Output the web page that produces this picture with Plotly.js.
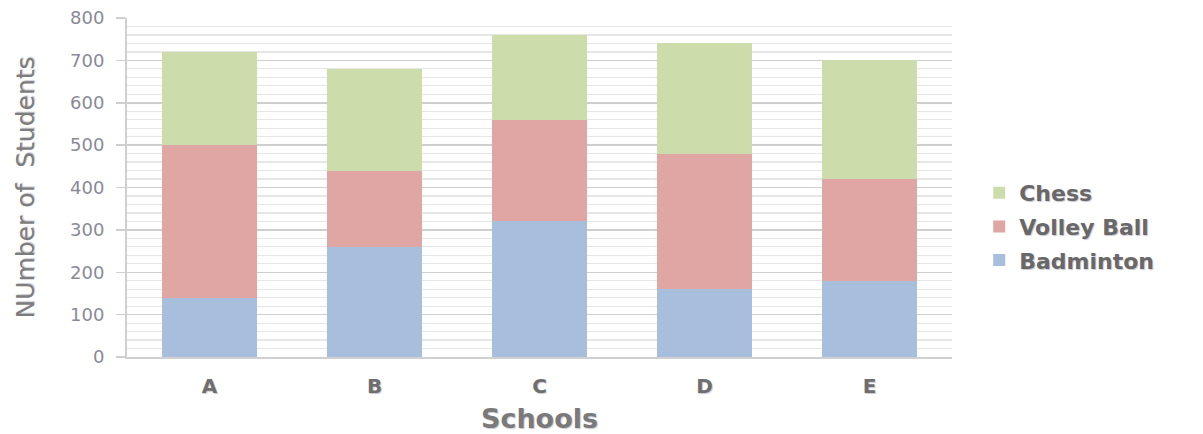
<!DOCTYPE html>
<html>
<head>
<meta charset="utf-8">
<script src="https://cdn.plot.ly/plotly-3.0.1.min.js"></script>
<style>html,body{margin:0;padding:0;background:#fff;}#chart{width:1203px;height:434px;}</style>
</head>
<body>
<div id="chart"></div>
<script>
const schools = ['A', 'B', 'C', 'D', 'E'];
const badminton = [140, 260, 320, 160, 180];
const volleyBall = [360, 180, 240, 320, 240];
const chess = [220, 240, 200, 260, 280];
const yTicks = [0, 100, 200, 300, 400, 500, 600, 700, 800];

const font = 'DejaVu Sans, Verdana, sans-serif';
const shadow = '1px 1px 1px #c8c8d0';
function bar(name, values, color, rank) {
  return {
    type: 'bar', name: name, x: schools, y: values,
    marker: {color: color, line: {width: 0}},
    width: 0.57, legendgroup: name, legendrank: rank, hoverinfo: 'y+name'
  };
}
const data = [
  bar('Badminton', badminton, '#a7bfdc', 3),
  bar('Volley Ball', volleyBall, '#dfa6a4', 2),
  bar('Chess', chess, '#cddcab', 1)
];
const layout = {
  width: 1203, height: 434,
  margin: {l: 127, r: 251, t: 18, b: 77},
  barmode: 'stack',
  paper_bgcolor: '#fff', plot_bgcolor: '#fff',
  font: {family: font, color: '#777'},
  showlegend: true,
  legend: {
    x: 1.033, xanchor: 'left', y: 0.385, yanchor: 'middle',
    traceorder: 'grouped', tracegroupgap: 2,
    font: {family: font, size: 22, color: '#686868', weight: 'bold', shadow: shadow},
    itemwidth: 30
  },
  xaxis: {
    showline: true, linecolor: '#d0d0d0', linewidth: 2,
    ticks: '', ticklabelstandoff: 10,
    tickfont: {family: font, size: 20, color: '#6e6e6e', weight: 'bold', shadow: shadow},
    title: {text: 'Schools', font: {family: font, size: 27, color: '#7a7a7a', weight: 'bold', shadow: shadow}, standoff: 12},
    fixedrange: true
  },
  yaxis: {
    range: [0, 800], tickvals: yTicks, ticktext: yTicks.map(String),
    showgrid: true, gridcolor: '#cfcfcf', gridwidth: 1.5,
    minor: {dtick: 20, tick0: 0, showgrid: true, gridcolor: '#e6e6e6', gridwidth: 1.2, ticks: ''},
    showline: true, linecolor: '#cfcfcf', linewidth: 2,
    ticks: 'outside', ticklen: 9, tickcolor: '#cfcfcf', tickwidth: 1.5,
    ticklabelstandoff: 8,
    tickfont: {family: font, size: 18, color: '#8a8a96'},
    title: {text: 'NUmber of  Students', font: {family: font, size: 25, color: '#7d7d7d', shadow: shadow}, standoff: 28},
    zeroline: false, fixedrange: true
  }
};
Plotly.newPlot('chart', data, layout, {displayModeBar: false, staticPlot: true});
</script>
</body>
</html>
